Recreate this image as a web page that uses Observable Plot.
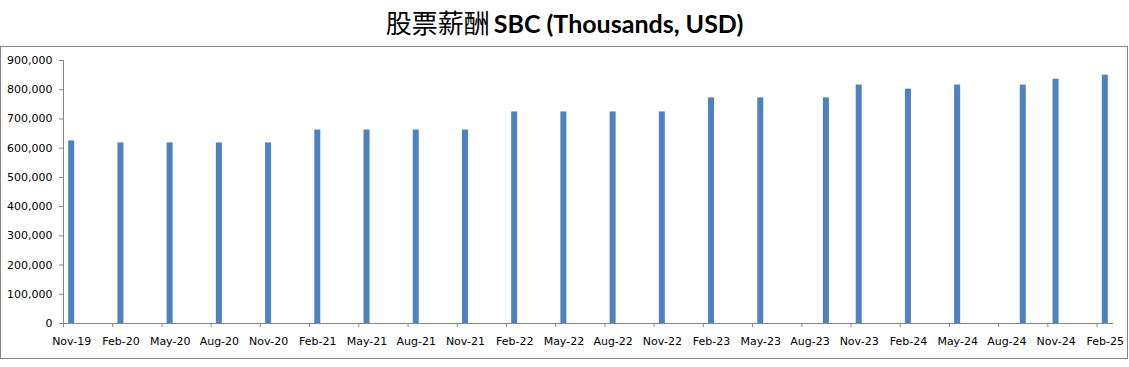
<!DOCTYPE html>
<html>
<head>
<meta charset="utf-8">
<script src="https://cdn.jsdelivr.net/npm/d3@7"></script>
<script src="https://cdn.jsdelivr.net/npm/@observablehq/plot@0.6"></script>
<style>
  body { margin: 0; background: #fff; }
  #title {
    position: absolute; left: 0; top: 0; width: 1129px; height: 46px;
    text-align: center; line-height: 44px; color: #000; white-space: nowrap;
  }
  #title .zh { font-family: "Noto Sans CJK SC", sans-serif; font-size: 26px; font-weight: 400; }
  #title .en { font-family: Lato, "Open Sans", sans-serif; font-size: 25px; font-weight: 700; }
  #frame {
    position: absolute; left: 0; top: 46px; width: 1126px; height: 311px;
    border: 1px solid #868686; overflow: hidden;
  }
  #frame svg { display: block; }
</style>
</head>
<body>
<div id="title"><span class="zh">股票薪酬</span> <span class="en">SBC (Thousands, USD)</span></div>
<div id="frame"></div>
<script>
// Reporting months (YYYY-MM) and stock-based compensation (thousands USD)
const periods = [
  "2019-11","2020-02","2020-05","2020-08","2020-11","2021-02","2021-05","2021-08",
  "2021-11","2022-02","2022-05","2022-08","2022-11","2023-02","2023-05","2023-09",
  "2023-11","2024-02","2024-05","2024-09","2024-11","2025-02"
];
const sbc = [
  625000, 618000, 618000, 618000, 618000, 662000, 662000, 662000,
  662000, 724000, 724000, 724000, 724000, 772000, 772000, 772000,
  816000, 802000, 816000, 816000, 836000, 850000
];
// Axis tick labels (quarterly)
const tickLabels = [
  "Nov-19","Feb-20","May-20","Aug-20","Nov-20","Feb-21","May-21","Aug-21",
  "Nov-21","Feb-22","May-22","Aug-22","Nov-22","Feb-23","May-23","Aug-23",
  "Nov-23","Feb-24","May-24","Aug-24","Nov-24","Feb-25"
];
const yTicks = [0,100000,200000,300000,400000,500000,600000,700000,800000,900000];

// month index counted from Nov-2019
const monthIndex = s => {
  const [y, m] = s.split("-").map(Number);
  return (y - 2019) * 12 + (m - 11);
};
const data = periods.map((p, i) => ({ idx: monthIndex(p), value: sbc[i] }));
const tickIdx = tickLabels.map((_, i) => i * 3);
const nMonths = tickIdx[tickIdx.length - 1] + 1;
const half = 0.183;

const axisColor = "#868686";

const chart = Plot.plot({
  width: 1126,
  height: 311,
  marginLeft: 62,
  marginRight: 14,
  marginTop: 13,
  marginBottom: 35,
  style: { fontFamily: "'DejaVu Sans', sans-serif", fontSize: "11px", background: "#fff", color: "#000" },
  x: { type: "linear", domain: [-0.5, nMonths - 0.5] },
  y: { domain: [0, 900000] },
  marks: [
    Plot.rectY(data, {
      x1: d => d.idx - half,
      x2: d => d.idx + half,
      y: "value",
      fill: "#4F81BD"
    }),
    Plot.ruleY([0], { x1: -0.5, x2: nMonths - 0.5, stroke: axisColor }),
    Plot.ruleX([-0.5], { y1: 0, y2: 900000, stroke: axisColor }),
    Plot.axisY({
      ticks: yTicks, tickSize: 4, tickPadding: 7,
      tickFormat: d3.format(","), stroke: axisColor, fill: "#000", label: null
    }),
    Plot.axisX({
      ticks: tickIdx.map(i => i - 0.5), tickSize: 4,
      tickFormat: () => "", stroke: axisColor, label: null
    }),
    Plot.axisX({
      ticks: tickIdx, tickSize: 0, tickPadding: 14,
      tickFormat: i => tickLabels[Math.round(i / 3)], fill: "#000", label: null
    })
  ]
});
document.getElementById("frame").appendChild(chart);
</script>
</body>
</html>
